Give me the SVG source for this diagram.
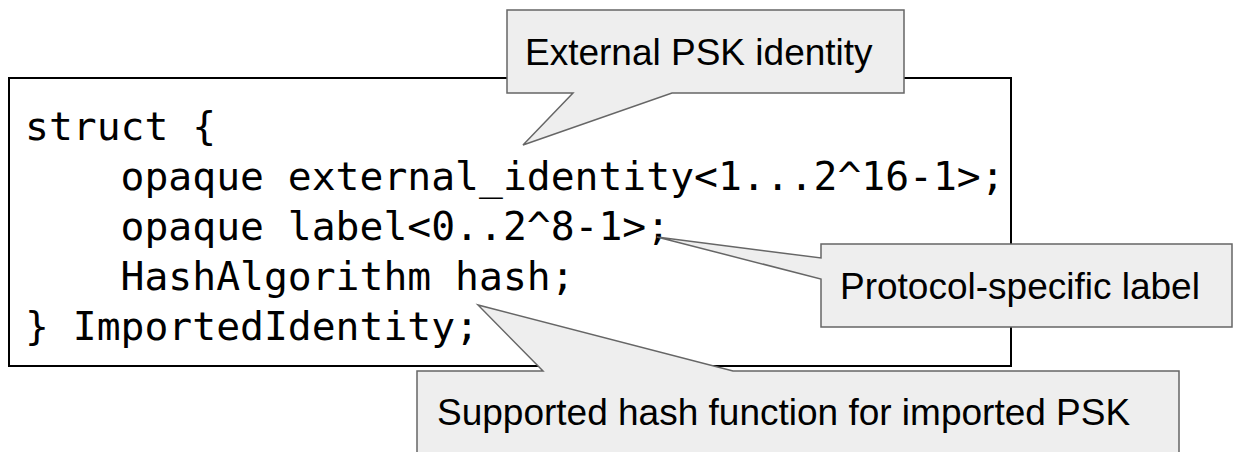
<svg xmlns="http://www.w3.org/2000/svg" width="1234" height="452" viewBox="0 0 1234 452">
<style>
.code{font-family:"DejaVu Sans Mono","Liberation Mono",monospace;font-size:39.7px;fill:#000;white-space:pre}
.box{fill:#fff;stroke:#000;stroke-width:2}
.callout{fill:#eeeeee;stroke:#666666;stroke-width:1.5;stroke-linejoin:miter}
.ct{font-family:"Liberation Sans",Arial,sans-serif;font-size:37px;fill:#000}
</style>
<rect width="1234" height="452" fill="#fff"/>
<g id="struct">
<rect class="box" x="9" y="78" width="1002" height="288"/>
<text class="code" xml:space="preserve"><tspan x="25" y="140">struct {</tspan><tspan x="25" y="190">    opaque external_identity&lt;1...2^16-1&gt;;</tspan><tspan x="25" y="240">    opaque label&lt;0..2^8-1&gt;;</tspan><tspan x="25" y="290">    HashAlgorithm hash;</tspan><tspan x="25" y="340">} ImportedIdentity;</tspan></text>
</g>
<g id="callouts">
<g id="callout-identity">
<path class="callout" d="M507,10 H904 V93 H672 L523,145 L573,93 H507 Z"/>
<text class="ct" x="525" y="65">External PSK identity</text>
</g>
<g id="callout-label">
<path class="callout" d="M821,244 H1232 V327 H821 V279 L657,237 L821,258 Z"/>
<text class="ct" x="840" y="299">Protocol-specific label</text>
</g>
<g id="callout-hash">
<path class="callout" d="M417,371 H543 L478,305 L733,371 H1179 V470 H417 Z"/>
<text class="ct" x="437" y="425">Supported hash function for imported PSK</text>
</g>
</g>
</svg>
